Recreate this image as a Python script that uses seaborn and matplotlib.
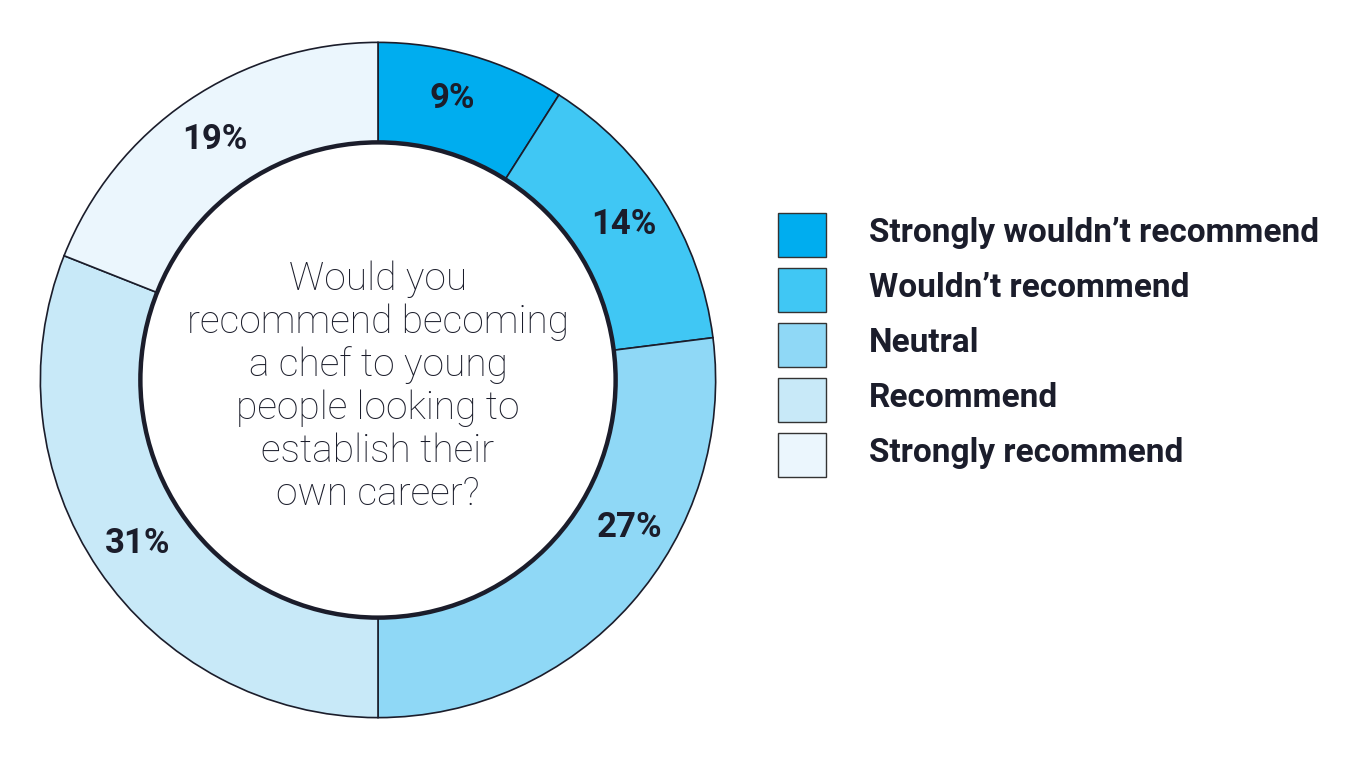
import numpy as np
import pandas as pd
import seaborn as sns
import matplotlib.pyplot as plt
from matplotlib.patches import Circle, Rectangle

# Datos del gráfico
categories = ['Strongly wouldn’t recommend', 'Wouldn’t recommend', 'Neutral',
              'Recommend', 'Strongly recommend']
shares = [9, 14, 27, 31, 19]
colors = ['#00adef', '#40c7f4', '#8fd8f6', '#c8e9f8', '#ebf6fd']
question = ('Would you\nrecommend becoming\na chef to young\npeople looking to\n'
            'establish their\nown career?')

df = pd.DataFrame({'category': categories, 'share': shares})

sns.set_theme(style='white')
plt.rcParams['font.family'] = ['Roboto', 'DejaVu Sans']

ink = '#1b1d2b'
fig = plt.figure(figsize=(13.59, 7.64), dpi=100)
fig.patch.set_facecolor('white')

# Eje del donut, cuadrado en píxeles
W, H = 1359, 764
ax = fig.add_axes([37 / W, (H - 721) / H, 682 / W, 682 / H])
inner = 240 / 341

wedges, _ = ax.pie(df['share'], colors=colors, startangle=90, counterclock=False,
                   radius=1, wedgeprops=dict(width=1 - inner, edgecolor=ink, linewidth=1.2))
ax.add_patch(Circle((0, 0), inner, facecolor='none', edgecolor=ink, linewidth=3.2, zorder=5))
ax.set_xlim(-1.01, 1.01)
ax.set_ylim(-1.01, 1.01)
ax.set_aspect('equal')
ax.axis('off')

# Etiquetas de porcentaje
label_r = 294 / 341
angle_shift = {0: 1.5, 2: 11}  # el 27% está algo desplazado en el original
for i, w in enumerate(wedges):
    ang = np.deg2rad((w.theta1 + w.theta2) / 2 + angle_shift.get(i, 0))
    ax.text(label_r * np.cos(ang), label_r * np.sin(ang), f'{df["share"][i]}%',
            ha='center', va='center', fontsize=25, fontweight='bold', color=ink)

ax.text(0, -0.02, question, ha='center', va='center', fontsize=28, color=ink,
        fontweight='light', linespacing=1.18)

# Leyenda manual
for i, (cat, col) in enumerate(zip(categories, colors)):
    top = 213 + i * 55
    fig.add_artist(Rectangle((778 / W, (H - top - 44) / H), 48 / W, 44 / H,
                             facecolor=col, edgecolor='#333333', linewidth=1,
                             transform=fig.transFigure))
    fig.text(869 / W, (H - top - 20) / H, cat, ha='left', va='center',
             fontsize=24, fontweight='bold', color=ink)

fig.savefig('out.png', dpi=100, facecolor='white')
